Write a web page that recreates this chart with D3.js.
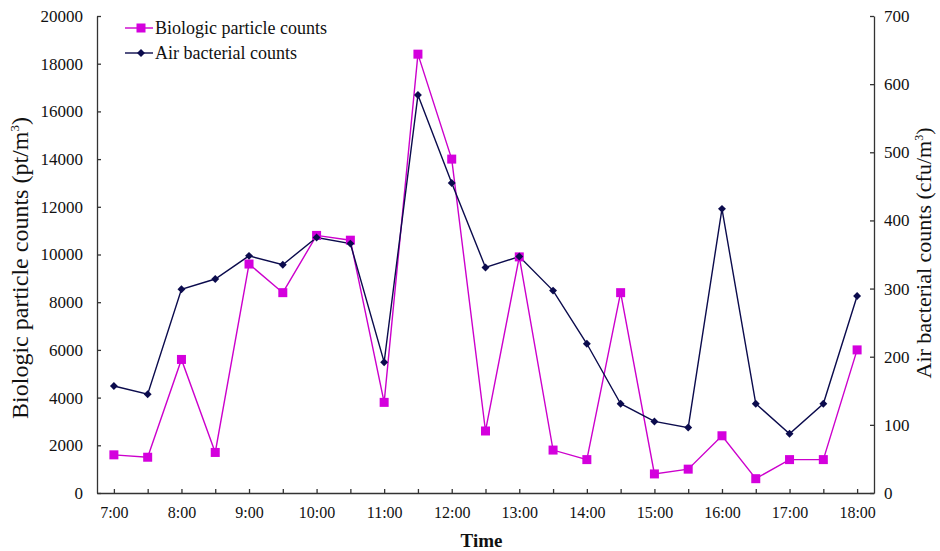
<!DOCTYPE html>
<html>
<head>
<meta charset="utf-8">
<script src="https://cdn.jsdelivr.net/npm/d3@7"></script>
<style>
  body { margin: 0; background: #fff; }
  svg text { font-family: "Liberation Serif", "Times New Roman", serif; fill: #111; }
  .axis path, .axis line { stroke: #333; stroke-width: 1.3; }
</style>
</head>
<body>
<div id="chart"></div>
<script>
// half-hour sampling times
var times = ["7:00", "7:30", "8:00", "8:30", "9:00", "9:30", "10:00", "10:30", "11:00", "11:30",
             "12:00", "12:30", "13:00", "13:30", "14:00", "14:30", "15:00", "15:30", "16:00",
             "16:30", "17:00", "17:30", "18:00"];
// biologic particle counts (pt/m3), left axis
var particles = [1600, 1500, 5600, 1700, 9600, 8400, 10800, 10600, 3800, 18400,
                 14000, 2600, 9900, 1800, 1400, 8400, 800, 1000, 2400, 600, 1400, 1400, 6000];
// air bacterial counts (cfu/m3), right axis
var bacteria = [157, 145, 299, 314, 348, 335, 375, 366, 192, 584,
                455, 331, 347, 297, 219, 131, 105, 96, 417, 131, 87, 131, 289];
var leftTicks = [0, 2000, 4000, 6000, 8000, 10000, 12000, 14000, 16000, 18000, 20000];
var rightTicks = [0, 100, 200, 300, 400, 500, 600, 700];
var hourLabels = ["7:00", "8:00", "9:00", "10:00", "11:00", "12:00", "13:00", "14:00",
                  "15:00", "16:00", "17:00", "18:00"];

var W = 940, H = 551;
var margin = {top: 16, right: 66, bottom: 58, left: 97},
    width = W - margin.left - margin.right,
    height = H - margin.top - margin.bottom;

var pink = "#cc00cc", navy = "#0b0b4d";

var svg = d3.select("#chart").append("svg")
    .attr("width", W)
    .attr("height", H)
  .append("g")
    .attr("transform", "translate(" + margin.left + "," + margin.top + ")");

var x = d3.scalePoint().domain(times).range([0, width]).padding(0.5);
var yL = d3.scaleLinear().domain([0, 20000]).range([height, 0]);
var yR = d3.scaleLinear().domain([0, 700]).range([height, 0]);

// axes
svg.append("g")
    .attr("class", "axis")
    .attr("transform", "translate(0," + height + ")")
    .call(d3.axisBottom(x).tickSizeInner(-4).tickSizeOuter(0)
      .tickFormat(function(d) { return hourLabels.indexOf(d) >= 0 ? d : ""; }))
    .call(function(g) { g.selectAll("text").attr("dy", "1.4em").style("font-size", "16px"); });

svg.append("g")
    .attr("class", "axis")
    .call(d3.axisLeft(yL).tickValues(leftTicks).tickFormat(d3.format("d"))
      .tickSizeInner(-4).tickSizeOuter(0).tickPadding(14))
    .call(function(g) { g.selectAll("text").style("font-size", "17px"); });

svg.append("g")
    .attr("class", "axis")
    .attr("transform", "translate(" + width + ",0)")
    .call(d3.axisRight(yR).tickValues(rightTicks).tickSizeInner(-4).tickSizeOuter(0).tickPadding(10))
    .call(function(g) { g.selectAll("text").style("font-size", "17px"); });

svg.selectAll(".domain").attr("stroke", "#333").attr("stroke-width", 1.5);

// lines
var lineL = d3.line().x(function(d, i) { return x(times[i]); }).y(function(d) { return yL(d); });
var lineR = d3.line().x(function(d, i) { return x(times[i]); }).y(function(d) { return yR(d); });

svg.append("path").datum(particles)
    .attr("d", lineL).attr("fill", "none").attr("stroke", pink).attr("stroke-width", 1.4);

svg.append("path").datum(bacteria)
    .attr("d", lineR).attr("fill", "none").attr("stroke", navy).attr("stroke-width", 1.4);

// markers
svg.selectAll(".sq").data(particles).enter().append("rect")
    .attr("class", "sq")
    .attr("x", function(d, i) { return x(times[i]) - 4.5; })
    .attr("y", function(d) { return yL(d) - 4.5; })
    .attr("width", 9).attr("height", 9)
    .attr("fill", "#d400dd");

var diamond = d3.symbol().type(d3.symbolDiamond2).size(40);
svg.selectAll(".dm").data(bacteria).enter().append("path")
    .attr("class", "dm")
    .attr("transform", function(d, i) { return "translate(" + x(times[i]) + "," + yR(d) + ")"; })
    .attr("d", diamond)
    .attr("fill", navy);

// axis titles
svg.append("text")
    .attr("transform", "translate(" + (-69) + "," + 252 + ") rotate(-90)")
    .style("text-anchor", "middle")
    .style("font-size", "24px")
    .html('Biologic particle counts (pt/m<tspan dy="-9" font-size="13">3</tspan><tspan dy="9">)</tspan>');

svg.append("text")
    .attr("transform", "translate(" + (width + 57) + "," + 237 + ") rotate(-90)")
    .style("text-anchor", "middle")
    .style("font-size", "22px")
    .html('Air bacterial counts (cfu/m<tspan dy="-8" font-size="12">3</tspan><tspan dy="8">)</tspan>');

svg.append("text")
    .attr("x", width / 2 - 4)
    .attr("y", height + 54)
    .style("text-anchor", "middle")
    .style("font-size", "19px")
    .style("font-weight", "bold")
    .text("Time");

// legend
var legend = svg.append("g").attr("transform", "translate(28,12)");
legend.append("line").attr("x1", 0).attr("x2", 28).attr("y1", 0).attr("y2", 0)
    .attr("stroke", pink).attr("stroke-width", 1.4);
legend.append("rect").attr("x", 11.5).attr("y", -4.5).attr("width", 9).attr("height", 9)
    .attr("fill", "#d400dd");
legend.append("text").attr("x", 30).attr("y", 6).style("font-size", "18px")
    .text("Biologic particle counts");

legend.append("line").attr("x1", 0).attr("x2", 28).attr("y1", 25).attr("y2", 25)
    .attr("stroke", navy).attr("stroke-width", 1.4);
legend.append("path").attr("transform", "translate(16,25)").attr("d", diamond).attr("fill", navy);
legend.append("text").attr("x", 30).attr("y", 31).style("font-size", "18px")
    .text("Air bacterial counts");
</script>
</body>
</html>
